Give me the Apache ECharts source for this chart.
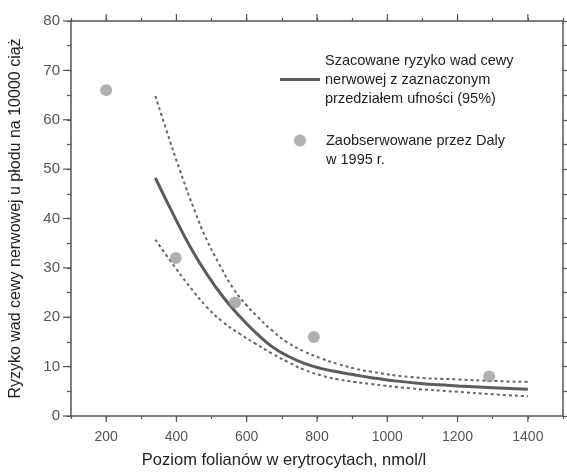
<!DOCTYPE html>
<html>
<head>
<meta charset="utf-8">
<script src="https://cdn.jsdelivr.net/npm/echarts@6/dist/echarts.min.js"></script>
<style>html,body{margin:0;padding:0;background:#fff}#c{width:567px;height:475px}</style>
</head>
<body>
<div id="c"></div>
<script>
const xTickLabels = [200, 400, 600, 800, 1000, 1200, 1400];
const yTickLabels = [0, 10, 20, 30, 40, 50, 60, 70, 80];

const dalyX = [200, 398, 567, 791, 1290];
const dalyY = [66, 32, 23, 16, 8];

const fitX   = [340, 390, 439, 486, 533, 581, 624, 671, 718, 766, 813, 861, 908, 951, 1000, 1093, 1200, 1300, 1400];
const fitMid = [48.2, 41.0, 34.3, 28.8, 24.1, 20.1, 17.0, 14.1, 12.1, 10.6, 9.6, 8.9, 8.3, 7.8, 7.3, 6.6, 6.1, 5.7, 5.4];

const upX = [340, 372, 410, 455, 481, 520, 562, 600, 628, 671, 718, 766, 813, 861, 908, 951, 1065, 1200, 1300, 1400];
const upY = [64.8, 57.8, 49.7, 41.0, 36.5, 31.0, 25.8, 22.4, 20.3, 17.4, 14.8, 13.0, 11.65, 10.5, 9.6, 9.0, 7.9, 7.4, 7.1, 6.9];

const loX = [340, 382, 439, 486, 533, 581, 624, 671, 718, 766, 813, 861, 908, 951, 1065, 1200, 1300, 1400];
const loY = [35.7, 31.5, 26.1, 22.1, 19.0, 16.6, 14.7, 12.7, 10.9, 9.3, 8.2, 7.4, 6.9, 6.5, 5.6, 4.9, 4.4, 4.0];

const nameFit = 'Szacowane ryzyko wad cewy\nnerwowej z zaznaczonym\nprzedziałem ufności (95%)';
const nameObs = 'Zaobserwowane przez Daly\nw 1995 r.';

const zip = (xs, ys) => xs.map((x, i) => [x, ys[i]]);

const axisColor = '#555';
const labelColor = '#555';
const lineColor = '#5c5c5c';
const dotColor = '#9c9c9c';
const FONT = '"Liberation Sans", Arial, sans-serif';

const chart = echarts.init(document.getElementById('c'));

// major (longer) ticks drawn through the axis scales
const majorTicks = [];
xTickLabels.forEach(v => majorTicks.push({ value: [v, 0], kind: 'x' }));
yTickLabels.forEach(v => majorTicks.push({ value: [100, v], kind: 'y' }));

chart.setOption({
  animation: false,
  backgroundColor: '#fff',
  textStyle: { fontFamily: FONT },
  grid: { left: 71, right: 4, top: 21, bottom: 59 },
  xAxis: [{
    type: 'value', min: 100, max: 1500, interval: 100, position: 'bottom',
    name: 'Poziom folianów w erytrocytach, nmol/l',
    nameLocation: 'middle', nameGap: 36,
    nameTextStyle: { fontSize: 16.5, color: '#222', padding: [0, 66, 0, 0], fontFamily: FONT },
    axisLine: { onZero: false, lineStyle: { color: axisColor, width: 1.5 } },
    axisTick: { show: true, length: 3, lineStyle: { color: axisColor, width: 1.2 } },
    splitLine: { show: false },
    axisLabel: {
      margin: 14, fontSize: 14, color: labelColor, fontFamily: FONT,
      formatter: v => (xTickLabels.indexOf(v) >= 0 ? String(v) : '')
    }
  }, {
    type: 'value', min: 100, max: 1500, interval: 100, position: 'top',
    axisLine: { onZero: false, lineStyle: { color: axisColor, width: 1.5 } },
    axisTick: { show: true, length: 3, lineStyle: { color: axisColor, width: 1.2 } },
    splitLine: { show: false }, axisLabel: { show: false }
  }],
  yAxis: [{
    type: 'value', min: 0, max: 80, interval: 5, position: 'left',
    name: 'Ryzyko wad cewy nerwowej u płodu na 10000 ciąż',
    nameLocation: 'middle', nameGap: 47,
    nameTextStyle: { fontSize: 16, color: '#222', fontFamily: FONT },
    axisLine: { onZero: false, lineStyle: { color: axisColor, width: 1.5 } },
    axisTick: { show: true, length: 4, lineStyle: { color: axisColor, width: 1.2 } },
    splitLine: { show: false },
    axisLabel: {
      margin: 11, fontSize: 15, color: labelColor, fontFamily: FONT,
      formatter: v => (yTickLabels.indexOf(v) >= 0 ? String(v) : '')
    }
  }, {
    type: 'value', min: 0, max: 80, interval: 5, position: 'right',
    axisLine: { onZero: false, lineStyle: { color: axisColor, width: 1.5 } },
    axisTick: { show: true, length: 4, lineStyle: { color: axisColor, width: 1.2 } },
    splitLine: { show: false }, axisLabel: { show: false }
  }],
  legend: [{
    orient: 'vertical', left: 280, top: 51, padding: 0,
    itemWidth: 40, itemHeight: 3,
    data: [{ name: nameFit, icon: 'rect', itemStyle: { color: lineColor } }],
    textStyle: { fontSize: 14.5, color: '#222', lineHeight: 19, fontFamily: FONT }
  }, {
    orient: 'vertical', left: 294, top: 112, padding: 0,
    itemWidth: 12, itemHeight: 12,
    data: [{ name: nameObs, icon: 'circle', itemStyle: { color: dotColor } }],
    formatter: n => '\n' + n,
    textStyle: { fontSize: 14.5, color: '#222', lineHeight: 19, padding: [0, 0, 0, 15], fontFamily: FONT }
  }],
  series: [
    {
      name: nameFit, type: 'line', data: zip(fitX, fitMid), smooth: true,
      symbol: 'none', showSymbol: false, itemStyle: { color: lineColor },
      lineStyle: { color: lineColor, width: 3 }, z: 3
    },
    {
      name: 'upper', type: 'line', data: zip(upX, upY), smooth: true,
      symbol: 'none', showSymbol: false,
      lineStyle: { color: '#666', width: 2, type: [3, 3] }, z: 2
    },
    {
      name: 'lower', type: 'line', data: zip(loX, loY), smooth: true,
      symbol: 'none', showSymbol: false,
      lineStyle: { color: '#666', width: 2, type: [3, 3] }, z: 2
    },
    {
      name: nameObs, type: 'scatter', data: zip(dalyX, dalyY),
      symbol: 'circle', symbolSize: 12, itemStyle: { color: dotColor }, z: 4
    },
    {
      name: 'majorTicks', type: 'custom', data: majorTicks.map(t => t.value),
      clip: false, silent: true, z: 1,
      renderItem: (params, api) => {
        const t = majorTicks[params.dataIndex];
        const p = api.coord([api.value(0), api.value(1)]);
        const st = { stroke: axisColor, lineWidth: 1.2 };
        if (t.kind === 'x') {
          const top = api.coord([api.value(0), 80]);
          return { type: 'group', children: [
            { type: 'line', shape: { x1: p[0], y1: p[1], x2: p[0], y2: p[1] + 6 }, style: st },
            { type: 'line', shape: { x1: top[0], y1: top[1], x2: top[0], y2: top[1] - 7 }, style: st }
          ]};
        }
        return { type: 'line', shape: { x1: p[0], y1: p[1], x2: p[0] - 8, y2: p[1] }, style: st };
      }
    }
  ]
});
</script>
</body>
</html>
